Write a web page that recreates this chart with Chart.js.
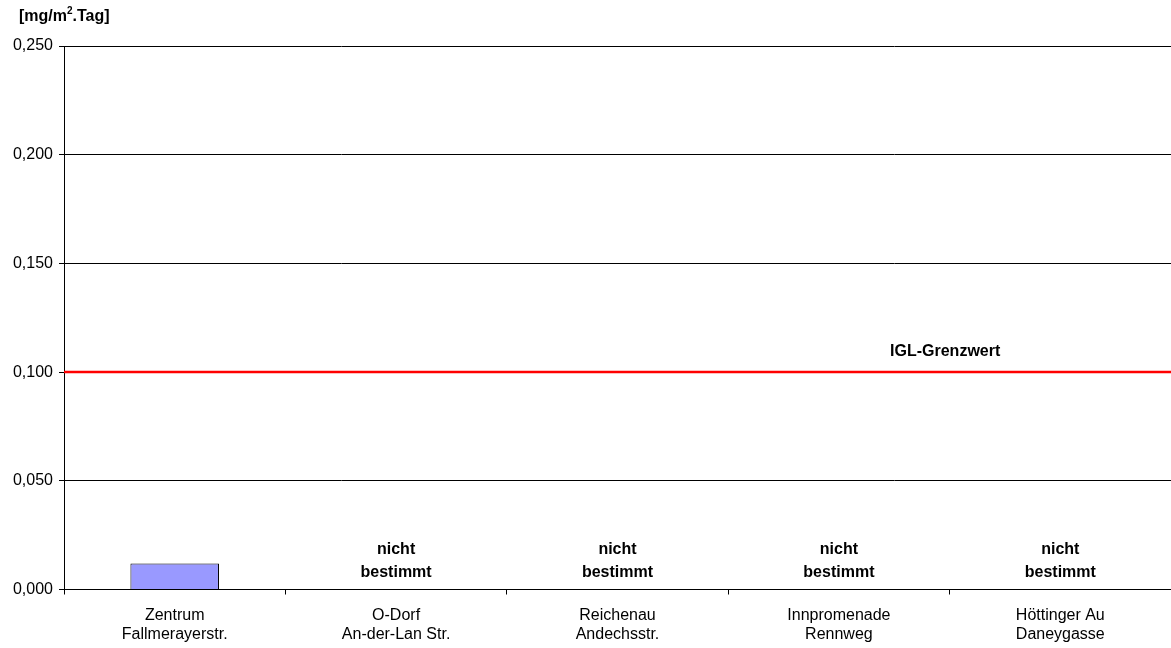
<!DOCTYPE html>
<html>
<head>
<meta charset="utf-8">
<script src="https://cdn.jsdelivr.net/npm/chart.js@4/dist/chart.umd.min.js"></script>
<style>
  html, body { margin: 0; padding: 0; background: #fff; }
  #wrap { width: 1171px; height: 648px; }
</style>
</head>
<body>
<div id="wrap"><canvas id="c" width="1171" height="648"></canvas></div>
<script>
// Messstellen (zweizeilige Beschriftung)
const standorte = [
  ['Zentrum', 'Fallmerayerstr.'],
  ['O-Dorf', 'An-der-Lan Str.'],
  ['Reichenau', 'Andechsstr.'],
  ['Innpromenade', 'Rennweg'],
  ['Höttinger Au', 'Daneygasse']
];
// Deposition in mg/m².Tag (null = nicht bestimmt)
const deposition = [0.012, null, null, null, null];
// IGL-Grenzwert
const grenzwert = 0.1;
const grenzwertText = 'IGL-Grenzwert';
const fehlwertText = ['nicht', 'bestimmt'];
// Einheit: Basis, Hochzahl, Rest
const einheit = ['[mg/m', '2', '.Tag]'];
// Achsenbereich
const yMin = 0, yMax = 0.25, yStep = 0.05;

const FONT = 'Arial, "Liberation Sans", sans-serif';
const SIZE = 16;

const annotations = {
  id: 'annotations',
  afterDatasetsDraw(chart) {
    const { ctx, chartArea, scales } = chart;
    const x = scales.x, y = scales.y;
    ctx.save();
    // Grenzwertlinie
    const yg = y.getPixelForValue(grenzwert);
    ctx.strokeStyle = '#ff0000';
    ctx.lineWidth = 2.5;
    ctx.beginPath();
    ctx.moveTo(chartArea.left, yg);
    ctx.lineTo(chartArea.right, yg);
    ctx.stroke();
    ctx.fillStyle = '#000';
    ctx.font = 'bold ' + SIZE + 'px ' + FONT;
    ctx.textAlign = 'center';
    ctx.textBaseline = 'middle';
    ctx.fillText(grenzwertText, x.getPixelForValue(3.48), yg - 21);
    // Fehlende Werte
    const y0 = y.getPixelForValue(0);
    deposition.forEach((v, i) => {
      if (v === null) {
        const cx = x.getPixelForValue(i);
        ctx.fillText(fehlwertText[0], cx, y0 - 40);
        ctx.fillText(fehlwertText[1], cx, y0 - 17);
      }
    });
    // Einheit mit hochgestellter 2
    ctx.textAlign = 'left';
    ctx.textBaseline = 'alphabetic';
    let px = 19;
    const base = 21;
    ctx.fillText(einheit[0], px, base);
    px += ctx.measureText(einheit[0]).width;
    ctx.font = 'bold 10px ' + FONT;
    ctx.fillText(einheit[1], px, base - 7);
    px += ctx.measureText(einheit[1]).width;
    ctx.font = 'bold ' + SIZE + 'px ' + FONT;
    ctx.fillText(einheit[2], px, base);
    ctx.restore();
  }
};

new Chart(document.getElementById('c'), {
  type: 'bar',
  data: {
    labels: standorte,
    datasets: [{
      data: deposition,
      backgroundColor: '#9999ff',
      borderColor: '#000',
      borderWidth: 1,
      barPercentage: 0.4,
      categoryPercentage: 1
    }]
  },
  options: {
    responsive: false,
    animation: false,
    devicePixelRatio: 1,
    layout: { padding: { top: 46, right: 0, left: 0, bottom: 0 } },
    plugins: { legend: { display: false }, tooltip: { enabled: false } },
    scales: {
      x: {
        afterFit(s) { s.height = 58.5; },
        grid: { offset: true, drawOnChartArea: false, drawTicks: true, tickLength: 5, color: '#000', lineWidth: 1 },
        border: { color: '#000', width: 1 },
        ticks: { color: '#000', font: { family: FONT, size: SIZE, lineHeight: 1.22 }, padding: 11, maxRotation: 0, autoSkip: false }
      },
      y: {
        min: yMin, max: yMax,
        afterFit(s) { s.width = 64; },
        grid: { color: '#000', lineWidth: 1, tickLength: 5, drawTicks: true },
        border: { color: '#000', width: 1 },
        ticks: {
          stepSize: yStep,
          color: '#000',
          padding: 6,
          font: { family: FONT, size: SIZE },
          callback: v => v.toFixed(3).replace('.', ',')
        }
      }
    }
  },
  plugins: [annotations]
});
</script>
</body>
</html>
